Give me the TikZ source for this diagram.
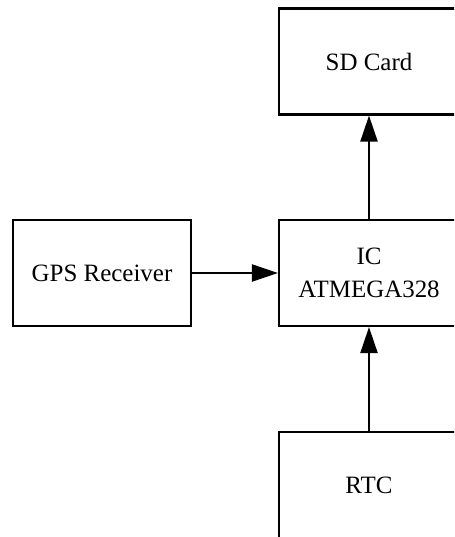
\documentclass[tikz,border=0pt]{standalone}
\usepackage{fontspec}
\setmainfont{Liberation Serif}
\usetikzlibrary{arrows.meta}
\tikzset{>={Triangle[length=0.52cm,width=0.34cm]}}
\tikzset{block/.style={draw, line width=1.2pt, minimum width=3.6cm, minimum height=2.12cm,
  align=center, font=\fontsize{14.2}{18.5}\selectfont}}

\begin{document}
\begin{tikzpicture}[x=0.02cm, y=-0.02cm]
      \useasboundingbox (0,0) rectangle (454,537);
      \clip (0,0) rectangle (454,537);
      \node[block] (sd) at (369,61.5) {SD Card};
      \node[block] (ic) at (369,273) {IC\\ATMEGA328};
      \node[block, minimum width=3.56cm] (gps) at (102,273) {GPS Receiver};
      \node[block] (rtc) at (369,485) {RTC};
      \draw[->, line width=1.2pt] (ic) -- (sd);
      \draw[->, line width=1.2pt] (gps) -- (ic);
      \draw[->, line width=1.2pt] (rtc) -- (ic);
    \end{tikzpicture}
\end{document}
